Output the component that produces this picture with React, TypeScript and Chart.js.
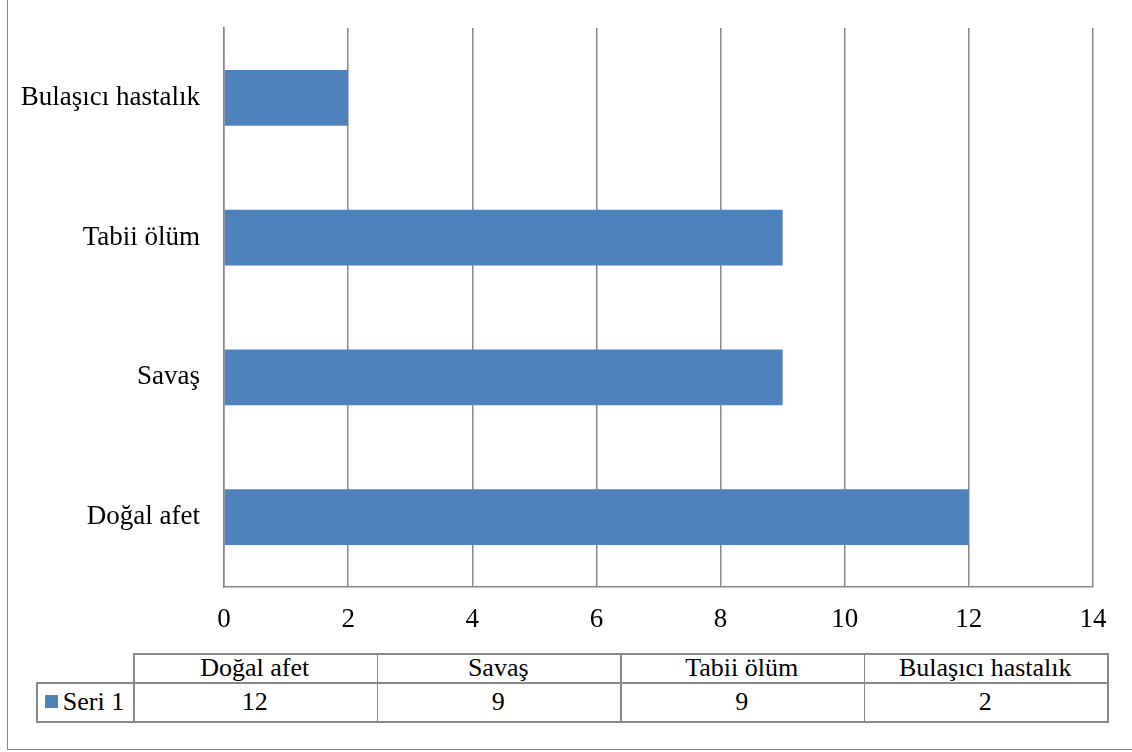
import React, { useEffect, useRef } from "react";
import { Chart, registerables } from "chart.js";

Chart.register(...registerables);

const categories = ["Doğal afet", "Savaş", "Tabii ölüm", "Bulaşıcı hastalık"];
const seriesName = "Seri 1";
const seriesValues = [12, 9, 9, 2];
const xTicks = [0, 2, 4, 6, 8, 10, 12, 14];

const FONT = "'Liberation Serif', 'Times New Roman', serif";
const GRAY = "#888888";
const BAR = "#4F81BD";

const W = 1132;
const CANVAS_H = 650;

// table geometry
const TABLE_LEFT = 36;
const COL0_RIGHT = 133;
const TABLE_RIGHT = 1107;
const ROW_TOP = 653;
const ROW_MID = 682;
const ROW_BOTTOM = 721;

function Line({ x, y, w, h }: { x: number; y: number; w: number; h: number }) {
  return (
    <div
      style={{ position: "absolute", left: x, top: y, width: w, height: h, background: GRAY }}
    />
  );
}

export default function App() {
  const ref = useRef<HTMLCanvasElement | null>(null);

  useEffect(() => {
    if (!ref.current) return;
    const chart = new Chart(ref.current, {
      type: "bar",
      data: {
        labels: categories,
        datasets: [
          {
            label: seriesName,
            data: seriesValues,
            backgroundColor: BAR,
            borderWidth: 0,
            barPercentage: 0.4,
            categoryPercentage: 1,
          },
        ],
      },
      options: {
        indexAxis: "y",
        responsive: false,
        animation: false,
        devicePixelRatio: 1,
        layout: { padding: { top: 28, right: 39, left: 0, bottom: 0 } },
        plugins: { legend: { display: false }, tooltip: { enabled: false } },
        scales: {
          x: {
            min: xTicks[0],
            max: xTicks[xTicks.length - 1],
            ticks: { stepSize: xTicks[1] - xTicks[0], color: "#000", font: { family: FONT, size: 27 }, padding: 17 },
            grid: { color: GRAY, lineWidth: 1.5, drawTicks: false },
            border: { display: true, color: GRAY, width: 1.5 },
            afterFit: (scale: any) => {
              scale.height = 63;
              scale.paddingLeft = 0;
              scale.paddingRight = 0;
            },
          },
          y: {
            reverse: true,
            ticks: { color: "#000", font: { family: FONT, size: 27 }, padding: 24 },
            grid: { display: false, drawTicks: false },
            border: { display: true, color: GRAY, width: 1.5 },
            afterFit: (scale: any) => {
              scale.width = 224;
              scale.paddingTop = 0;
              scale.paddingBottom = 0;
            },
          },
        },
      },
    });
    return () => chart.destroy();
  }, []);

  const colW = (TABLE_RIGHT - COL0_RIGHT) / categories.length;
  const textStyle: React.CSSProperties = {
    position: "absolute",
    display: "flex",
    alignItems: "center",
    justifyContent: "center",
    fontFamily: FONT,
    fontSize: 26,
    color: "#000",
    whiteSpace: "nowrap",
    lineHeight: 1,
  };

  return (
    <div
      style={{
        position: "fixed",
        left: 0,
        top: 0,
        width: W,
        height: 752,
        background: "#fff",
        overflow: "hidden",
      }}
    >
      {/* outer frame (left and bottom edges visible) */}
      <Line x={6.5} y={0} w={1.5} h={750} />
      <Line x={6.5} y={748.5} w={W} h={1.5} />

      <canvas
        ref={ref}
        width={W}
        height={CANVAS_H}
        style={{ position: "absolute", left: 0, top: 0, width: W, height: CANVAS_H }}
      />

      {/* data table lines */}
      <Line x={COL0_RIGHT} y={ROW_TOP} w={TABLE_RIGHT - COL0_RIGHT + 1.5} h={1.5} />
      <Line x={TABLE_LEFT} y={ROW_MID} w={TABLE_RIGHT - TABLE_LEFT + 1.5} h={1.5} />
      <Line x={TABLE_LEFT} y={ROW_BOTTOM} w={TABLE_RIGHT - TABLE_LEFT + 1.5} h={1.5} />
      <Line x={TABLE_LEFT} y={ROW_MID} w={1.5} h={ROW_BOTTOM - ROW_MID + 1.5} />
      {[...categories.map((_, i) => COL0_RIGHT + i * colW), TABLE_RIGHT].map((x, i) => (
        <Line key={"v" + i} x={x} y={ROW_TOP} w={1.5} h={ROW_BOTTOM - ROW_TOP + 1.5} />
      ))}

      {/* header texts */}
      {categories.map((c, i) => (
        <div
          key={"h" + i}
          style={{
            ...textStyle,
            left: COL0_RIGHT + i * colW,
            top: ROW_TOP,
            width: colW,
            height: ROW_MID - ROW_TOP,
          }}
        >
          {c}
        </div>
      ))}
      {/* series label */}
      <div
        style={{
          ...textStyle,
          left: TABLE_LEFT,
          top: ROW_MID,
          width: COL0_RIGHT - TABLE_LEFT,
          height: ROW_BOTTOM - ROW_MID,
        }}
      >
        <span style={{ display: "inline-block", width: 13, height: 13, background: BAR, marginRight: 5 }} />
        {seriesName}
      </div>
      {seriesValues.map((v, i) => (
        <div
          key={"d" + i}
          style={{
            ...textStyle,
            left: COL0_RIGHT + i * colW,
            top: ROW_MID,
            width: colW,
            height: ROW_BOTTOM - ROW_MID,
          }}
        >
          {v}
        </div>
      ))}
    </div>
  );
}
